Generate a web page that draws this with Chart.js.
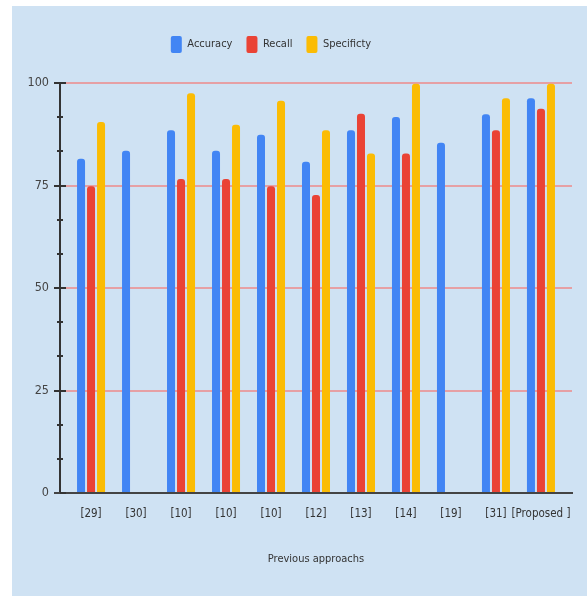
<!DOCTYPE html>
<html>
<head>
<meta charset="utf-8">
<script src="https://cdn.jsdelivr.net/npm/chart.js@4.4.1/dist/chart.umd.min.js"></script>
<style>
  body { margin: 0; background: #fff; }
  #box { position: absolute; left: 12px; top: 6px; width: 575px; height: 590px; background: #cfe2f3; }
</style>
</head>
<body>
<div id="box"><canvas id="myChart"></canvas></div>
<script>
var refs = ["[29]", "[30]", "[10]", "[10]", "[10]", "[12]", "[13]", "[14]", "[19]", "[31]", "[Proposed ]"];
var accuracy = [81.5, 83.5, 88.5, 83.5, 87.4, 80.8, 88.5, 91.7, 85.4, 92.4, 96.3];
var recall = [74.8, null, 76.6, 76.6, 74.8, 72.7, 92.5, 82.8, null, 88.5, 93.7];
var specificity = [90.5, null, 97.5, 89.8, 95.7, 88.5, 82.8, 99.8, null, 96.3, 99.8];
var yLabels = [0, 25, 50, 75, 100];

var FONT = "'DejaVu Sans Condensed', 'Liberation Sans Narrow', 'Liberation Sans', Arial, sans-serif";

function $(id) { return document.getElementById(id); }

function isMajor(v) {
  return yLabels.some(function (m) { return Math.abs(v - m) < 0.01; });
}

// tick marks crossing the y axis + baseline stub on the left
var axisMarks = {
  id: 'axisMarks',
  afterDraw: function (chart) {
    var ctx = chart.ctx, y = chart.scales.y, a = chart.chartArea;
    ctx.save();
    ctx.strokeStyle = '#333';
    ctx.lineWidth = 2;
    y.ticks.forEach(function (t) {
      var py = Math.round(y.getPixelForValue(t.value));
      var big = isMajor(t.value);
      ctx.beginPath();
      ctx.moveTo(a.left - (big ? 6 : 3), py);
      ctx.lineTo(a.left + (big ? 6 : 3), py);
      ctx.stroke();
    });
    ctx.strokeStyle = '#444';
    ctx.beginPath();
    ctx.moveTo(a.left - 6, a.bottom);
    ctx.lineTo(a.left, a.bottom);
    ctx.stroke();
    ctx.restore();
  }
};

// legend sits a bit left of centre, with more room under it
var legendTweak = {
  id: 'legendTweak',
  beforeInit: function (chart) {
    var fit = chart.legend.fit;
    chart.legend.fit = function () {
      fit.call(this);
      this.height += 20;
    };
  },
  afterLayout: function (chart) {
    chart.legend.left -= 21;
    chart.legend.right -= 21;
  }
};

var myChart = new Chart($('myChart'), {
  type: 'bar',
  data: {
    labels: refs,
    datasets: [
      { label: 'Accuracy', data: accuracy, backgroundColor: '#4285f4' },
      { label: 'Recall', data: recall, backgroundColor: '#ea4335' },
      { label: 'Specificty', data: specificity, backgroundColor: '#fbbc04' }
    ]
  },
  options: {
    responsive: true,
    maintainAspectRatio: false,
    animation: false,
    layout: { padding: { left: 0, right: 15, top: 16, bottom: 30 } },
    datasets: {
      bar: {
        categoryPercentage: 0.667,
        barPercentage: 0.8,
        borderWidth: 0,
        borderRadius: 3,
        borderSkipped: 'bottom'
      }
    },
    plugins: {
      tooltip: { enabled: false },
      legend: {
        position: 'top',
        labels: {
          boxWidth: 11,
          boxHeight: 17,
          useBorderRadius: true,
          borderRadius: 2,
          padding: 14,
          color: '#333',
          font: { family: FONT, size: 11 }
        }
      }
    },
    scales: {
      x: {
        afterBuildTicks: function (s) {
          // a little more room at both ends than the default offset
          s._startValue = -0.69;
          s._valueRange = refs.length - 1 + 2 * 0.69;
        },
        grid: { display: false, drawTicks: false },
        border: { display: true, color: '#444', width: 2 },
        ticks: {
          color: '#333', padding: 14, maxRotation: 0, autoSkip: false,
          font: { family: FONT, size: 11.5 }
        },
        title: {
          display: true,
          text: 'Previous approachs',
          color: '#333',
          padding: { top: 18, bottom: 0 },
          font: { family: FONT, size: 11 }
        }
      },
      y: {
        min: 0,
        max: 100,
        afterFit: function (s) { s.width = 48; },
        grid: {
          drawTicks: false,
          color: function (c) { return isMajor(c.tick.value) ? '#e6a0a4' : 'rgba(0,0,0,0)'; },
          lineWidth: 2
        },
        border: { display: true, color: '#333', width: 2 },
        ticks: {
          stepSize: 25 / 3,
          maxTicksLimit: 20,
          padding: 11,
          color: '#444',
          font: { family: FONT, size: 12.5 },
          callback: function (v) { return isMajor(v) ? Math.round(v) : ''; }
        }
      }
    }
  },
  plugins: [axisMarks, legendTweak]
});
</script>
</body>
</html>
